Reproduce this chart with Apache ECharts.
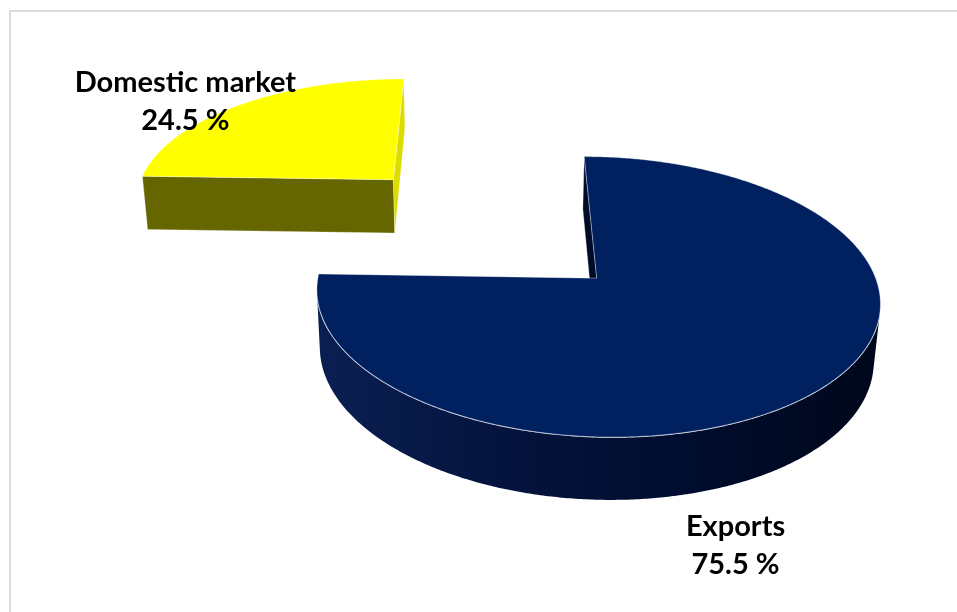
<!DOCTYPE html>
<html>
<head>
<meta charset="utf-8">
<title>Sales split</title>
<script src="https://cdn.jsdelivr.net/npm/echarts@6/dist/echarts.min.js"></script>
<style>
  html, body { margin: 0; padding: 0; background: #ffffff; }
  #chart { width: 957px; height: 612px; }
</style>
</head>
<body>
<div id="chart"></div>
<script>
// Share of sales by destination (percent), drawn clockwise from 12 o'clock
const categories = ['Exports', 'Domestic market'];
const shares = [75.5, 24.5];

// Slice colours: top face, radial faces at the start / end edge, outer wall shading
const sliceStyles = [
  { top: '#002060', startFace: '#000b2a', endFace: '#000b2a',
    wall: [[0, '#0a1f52'], [0.35, '#04133c'], [0.7, '#000c2c'], [1, '#00071b']] },
  { top: '#ffff00', startFace: '#666600', endFace: '#dcdc00',
    wall: [[0, '#777700'], [1, '#555500']] }
];

// Camera and pie geometry (pie radius = 1 world unit)
const VIEW = { cx: 490, cy: 226.5, scale: 265, tilt: 28, dist: 7, explode: 0.55, depth: 0.24 };
// Label placement relative to the slice's outer mid-point on screen
const LABEL_SHIFT = [[-87, 158], [-54, -3]];

const total = shares.reduce((a, b) => a + b, 0);
const rad = Math.PI / 180;
const sinT = Math.sin(VIEW.tilt * rad), cosT = Math.cos(VIEW.tilt * rad);
const camera = [0, -VIEW.dist * cosT, VIEW.dist * sinT];

// Perspective projection: X east, Y away from the viewer, Z up
function project(X, Y, Z) {
  const yc = Y * sinT + Z * cosT;
  const d = Y * cosT - Z * sinT;
  const s = VIEW.dist / (VIEW.dist + d);
  return [VIEW.cx + VIEW.scale * X * s, VIEW.cy - VIEW.scale * yc * s];
}

function facing(nx, ny, px, py) {
  return nx * (camera[0] - px) + ny * (camera[1] - py) > 0;
}

function renderSlice(params, api) {
  const i = params.dataIndex;
  const value = api.value(0);
  let before = 0;
  for (let k = 0; k < i; k++) before += shares[k];
  const a0 = 90 - 360 * before / total;
  const sweep = 360 * value / total;
  const a1 = a0 - sweep;
  const mid = a0 - sweep / 2;
  const ox = VIEW.explode * Math.cos(mid * rad);
  const oy = VIEW.explode * Math.sin(mid * rad);
  const H = VIEW.depth;
  const st = sliceStyles[i];

  const rim = (deg, z) => project(ox + Math.cos(deg * rad), oy + Math.sin(deg * rad), z);
  const cTop = project(ox, oy, 0);
  const cBot = project(ox, oy, -H);

  const steps = Math.max(8, Math.ceil(sweep / 0.5));
  const angles = [];
  for (let k = 0; k <= steps; k++) angles.push(a0 - sweep * k / steps);

  const children = [];

  // radial face on the starting edge
  const n0 = [-Math.sin(a0 * rad), Math.cos(a0 * rad)];
  if (facing(n0[0], n0[1], ox, oy)) {
    children.push({
      type: 'polygon',
      shape: { points: [cTop, rim(a0, 0), rim(a0, -H), cBot] },
      style: { fill: st.startFace, stroke: 'rgba(255,255,255,0.35)', lineWidth: 0.8 }
    });
  }
  // radial face on the closing edge
  const n1 = [Math.sin(a1 * rad), -Math.cos(a1 * rad)];
  if (facing(n1[0], n1[1], ox, oy)) {
    children.push({
      type: 'polygon',
      shape: { points: [cTop, rim(a1, 0), rim(a1, -H), cBot] },
      style: { fill: st.endFace, stroke: 'rgba(255,255,255,0.35)', lineWidth: 0.8 }
    });
  }

  // outer curved wall, only the runs that face the camera
  const runs = [];
  let run = null;
  angles.forEach((deg) => {
    const c = Math.cos(deg * rad), s = Math.sin(deg * rad);
    if (facing(c, s, ox + c, oy + s)) {
      if (!run) { run = []; runs.push(run); }
      run.push(deg);
    } else {
      run = null;
    }
  });
  runs.forEach((r) => {
    if (r.length < 2) return;
    const upper = r.map((deg) => rim(deg, 0));
    const lower = r.map((deg) => rim(deg, -H)).reverse();
    const xs = upper.map((p) => p[0]);
    const x0 = Math.min.apply(null, xs), x1 = Math.max.apply(null, xs);
    children.push({
      type: 'polygon',
      shape: { points: upper.concat(lower) },
      style: {
        fill: new echarts.graphic.LinearGradient(x0, 0, x1, 0,
          st.wall.map((w) => ({ offset: w[0], color: w[1] })), true)
      }
    });
    children.push({
      type: 'polyline',
      shape: { points: upper },
      style: { fill: null, stroke: 'rgba(225,230,240,0.95)', lineWidth: 1.4 }
    });
  });

  // top face
  children.push({
    type: 'polygon',
    shape: { points: [cTop].concat(angles.map((deg) => rim(deg, 0))) },
    style: { fill: st.top, stroke: 'rgba(255,255,255,0.45)', lineWidth: 0.8 }
  });

  // data label
  const anchor = rim(mid, 0);
  const shift = LABEL_SHIFT[i];
  children.push({
    type: 'text',
    z2: 10,
    style: {
      text: categories[i] + '\n' + value.toFixed(1) + ' %',
      x: anchor[0] + shift[0],
      y: anchor[1] + shift[1],
      align: 'center',
      verticalAlign: 'middle',
      fontFamily: 'Lato, "Open Sans", sans-serif',
      fontWeight: 'bold',
      fontSize: 29,
      lineHeight: 38,
      fill: '#000000'
    }
  });

  return { type: 'group', children: children };
}

const chart = echarts.init(document.getElementById('chart'), null, { renderer: 'canvas' });
chart.setOption({
  backgroundColor: '#ffffff',
  animation: false,
  graphic: [{
    type: 'rect',
    shape: { x: 10, y: 11, width: 1000, height: 700 },
    style: { fill: null, stroke: '#dcdcdc', lineWidth: 2 },
    silent: true
  }],
  series: [{
    type: 'custom',
    coordinateSystem: 'none',
    renderItem: renderSlice,
    data: shares.map((v, i) => ({ name: categories[i], value: [v] }))
  }]
});
</script>
</body>
</html>
